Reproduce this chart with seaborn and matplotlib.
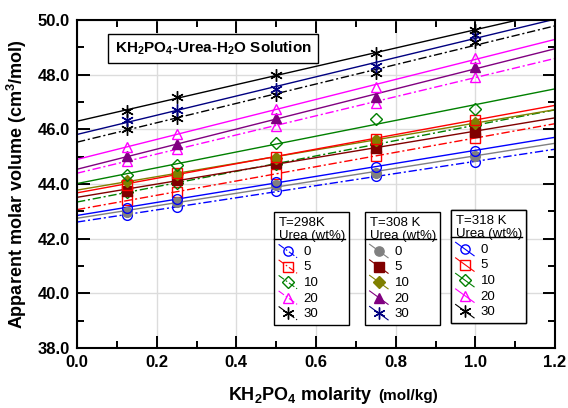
import matplotlib
matplotlib.use("Agg")
import matplotlib.pyplot as plt
import numpy as np
import seaborn as sns
from matplotlib.legend_handler import HandlerLine2D
from matplotlib.lines import Line2D
from matplotlib.ticker import MultipleLocator, FormatStrFormatter

plt.rcParams["font.family"] = ["Liberation Sans", "DejaVu Sans"]
plt.rcParams["mathtext.fontset"] = "custom"
plt.rcParams["mathtext.rm"] = "Liberation Sans"
plt.rcParams["mathtext.bf"] = "Liberation Sans:bold"

molality = [0.125, 0.25, 0.5, 0.75, 1.0]
urea_wt = ["0", "5", "10", "20", "30"]

# T = 298 K
v298_u0 = [42.88, 43.16, 43.73, 44.28, 44.82]
v298_u5 = [43.40, 43.70, 44.38, 45.03, 45.68]
v298_u10 = [43.70, 44.03, 44.75, 45.45, 46.15]
v298_u20 = [44.84, 45.28, 46.14, 46.97, 47.93]
v298_u30 = [46.03, 46.42, 47.26, 48.07, 49.18]

# T = 308 K
v308_u0 = [42.98, 43.33, 43.98, 44.42, 45.02]
v308_u5 = [43.76, 44.16, 44.76, 45.32, 45.92]
v308_u10 = [44.12, 44.38, 44.95, 45.62, 46.25]
v308_u20 = [45.01, 45.46, 46.40, 47.20, 48.27]
v308_u30 = [46.33, 46.70, 47.48, 48.33, 49.45]

# T = 318 K
v318_u0 = [43.13, 43.44, 44.08, 44.63, 45.22]
v318_u5 = [43.97, 44.40, 45.00, 45.66, 46.35]
v318_u10 = [44.33, 44.70, 45.50, 46.38, 46.75]
v318_u20 = [45.36, 45.84, 46.73, 47.55, 48.62]
v318_u30 = [46.66, 47.20, 47.98, 48.78, 49.65]

open_colors = ["#0000ff", "#ff0000", "#008000", "#ff00ff", "#000000"]
filled_colors = ["#808080", "#800000", "#808000", "#800080", "#000080"]
markers = ["o", "s", "D", "^", (6, 2, 0)]
sizes = [7, 7, 6.5, 7.5, 9]
dashdot = (0, (6, 2, 1.5, 2))

groups = [
    ("T=298K", [v298_u0, v298_u5, v298_u10, v298_u20, v298_u30], open_colors, False, dashdot),
    ("T=308 K", [v308_u0, v308_u5, v308_u10, v308_u20, v308_u30], filled_colors, True, "-"),
    ("T=318 K", [v318_u0, v318_u5, v318_u10, v318_u20, v318_u30], open_colors, False, "-"),
]


class DiagonalHandler(HandlerLine2D):
    def create_artists(self, legend, orig_handle, xdescent, ydescent, width, height, fontsize, trans):
        artists = super().create_artists(legend, orig_handle, xdescent, ydescent, width, height, fontsize, trans)
        line = artists[0]
        xd = line.get_xdata()
        line.set_ydata(np.linspace(height + 1, -2, len(xd)))
        return artists


fig = plt.figure(figsize=(5.68, 4.08), dpi=100)
ax = fig.add_axes([77 / 568, 1 - 348 / 408, 478 / 568, 328 / 408])
ax.set_xlim(0, 1.2)
ax.set_ylim(38, 50)

handles_all = []
for title, series, colors, filled, ls in groups:
    handles = []
    for vals, c, m, ms in zip(series, colors, markers, sizes):
        sns.regplot(x=np.array(molality), y=np.array(vals), ax=ax, ci=None, truncate=False,
                    scatter=False, line_kws=dict(color=c, lw=1, ls=ls, zorder=2))
        mfc = c if filled else "none"
        ax.plot(molality, vals, ls="none", marker=m, ms=ms, mfc=mfc, mec=c, mew=1, zorder=3)
        handles.append(Line2D([], [], color=c, lw=0.8, ls=ls, marker=m, ms=ms * 0.95,
                              mfc=mfc, mec=c, mew=1))
    handles_all.append((title, handles))

ax.set_xlim(0, 1.2)
ax.set_ylim(38, 50)

ax.xaxis.set_major_locator(MultipleLocator(0.2))
ax.xaxis.set_minor_locator(MultipleLocator(0.1))
ax.yaxis.set_major_locator(MultipleLocator(2))
ax.yaxis.set_minor_locator(MultipleLocator(1))
ax.xaxis.set_major_formatter(FormatStrFormatter("%.1f"))
ax.yaxis.set_major_formatter(FormatStrFormatter("%.1f"))
ax.grid(True, which="major", color="#dcdcdc", lw=1)
ax.set_axisbelow(True)
ax.tick_params(which="both", direction="in", top=True, right=True, width=1.4)
ax.tick_params(which="major", length=9, labelsize=12, pad=5)
ax.tick_params(which="minor", length=5)
for lab in ax.get_xticklabels() + ax.get_yticklabels():
    lab.set_fontweight("bold")
for sp in ax.spines.values():
    sp.set_linewidth(1.5)

ax.set_ylabel(r"Apparent molar volume (cm$^\mathbf{3}$/mol)", fontsize=13, fontweight="bold", labelpad=6)
ax.set_xlabel("")
fig.text(372 / 568, 1 - 400 / 408, r"KH$_\mathbf{2}$PO$_\mathbf{4}$ molarity", ha="right",
         va="baseline", fontsize=13, fontweight="bold")
fig.text(378 / 568, 1 - 400 / 408, "(mol/kg)", ha="left", va="baseline", fontsize=11, fontweight="bold")

ax.text(0.2845, 0.913, r"KH$_\mathbf{2}$PO$_\mathbf{4}$-Urea-H$_\mathbf{2}$O Solution", transform=ax.transAxes,
        ha="center", va="center", fontsize=11, fontweight="bold",
        bbox=dict(boxstyle="square,pad=0.4", fc="white", ec="black", lw=1), zorder=5)

anchors = [(274, 212), (365, 212), (451, 210)]
legends = []
for (title, handles), (px, py) in zip(handles_all, anchors):
    leg = ax.legend(handles, urea_wt, title=title + "\nUrea (wt%)", loc="upper left",
                    bbox_to_anchor=(px / 568, 1 - py / 408), bbox_transform=fig.transFigure,
                    frameon=True, fancybox=False, framealpha=1, edgecolor="black",
                    fontsize=9.5, title_fontsize=9.5, alignment="left", borderpad=0.35,
                    labelspacing=0.25, handlelength=1.4, handletextpad=0.5, borderaxespad=0,
                    handler_map={Line2D: DiagonalHandler(numpoints=1)})
    leg.get_frame().set_linewidth(1)
    leg.set_zorder(6)
    ax.add_artist(leg)
    legends.append(leg)

fig.canvas.draw()
inv = fig.transFigure.inverted()
for leg in legends:
    bb = leg.get_window_extent()
    tb = leg.get_title().get_window_extent()
    (x0, y0) = inv.transform((bb.x0, tb.y0 + 3))
    (x1, _) = inv.transform((tb.x1, tb.y0 + 3))
    fig.add_artist(Line2D([x0, x1], [y0, y0], color="black", lw=1, transform=fig.transFigure, zorder=7))

fig.savefig("out.png", dpi=100)
